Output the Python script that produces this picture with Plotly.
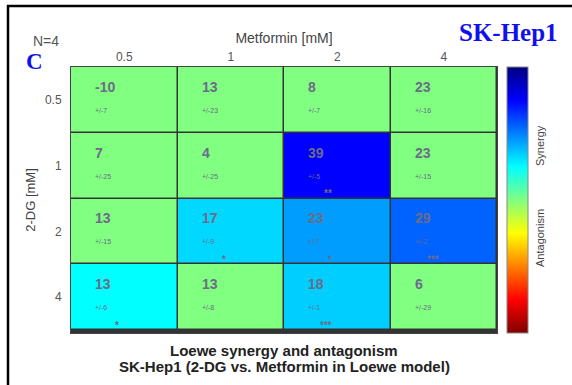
import plotly.graph_objects as go

# Doses
metformin_mM = ["0.5", "1", "2", "4"]
dg_mM = ["0.5", "1", "2", "4"]

# Loewe synergy scores (rows: 2-DG dose, columns: Metformin dose)
synergy = [
    [-10, 13, 8, 23],
    [7, 4, 39, 23],
    [13, 17, 23, 29],
    [13, 13, 18, 6],
]
synergy_sd = [
    [7, 23, 7, 16],
    [25, 25, 5, 15],
    [15, 9, 7, 2],
    [6, 8, 1, 29],
]
significance = [
    ["", "", "", ""],
    ["", "", "**", ""],
    ["", "*", "*", "***"],
    ["*", "", "***", ""],
]

# Only significant cells are coloured by their score; the rest sit at zero
color_values = [
    [v if s else 0 for v, s in zip(vrow, srow)]
    for vrow, srow in zip(synergy, significance)
]

jet_reversed = [
    [0.0, "rgb(128,0,0)"],
    [0.125, "rgb(255,0,0)"],
    [0.375, "rgb(255,255,0)"],
    [0.5, "rgb(128,255,128)"],
    [0.625, "rgb(0,255,255)"],
    [0.875, "rgb(0,0,255)"],
    [1.0, "rgb(0,0,128)"],
]

W, H = 572, 385
L, R, T, B = 71, 75, 67, 52
pw, ph = W - L - R, H - T - B


def px(x):
    return (x - L) / pw


def py(y):
    return (H - B - y) / ph


fig = go.Figure(
    go.Heatmap(
        z=color_values,
        x=metformin_mM,
        y=dg_mM,
        zmin=-52,
        zmax=52,
        colorscale=jet_reversed,
        xgap=1.5,
        ygap=1.5,
        hoverinfo="skip",
        colorbar=dict(
            x=px(507),
            xanchor="left",
            xpad=0,
            ypad=0,
            y=0.5,
            yanchor="middle",
            len=1.0,
            lenmode="fraction",
            thickness=21,
            thicknessmode="pixels",
            outlinewidth=1,
            outlinecolor="#888888",
            showticklabels=False,
            ticks="",
        ),
    )
)

text_color = "#6c6c88"
annotations = []
for i in range(len(dg_mM)):
    for j in range(len(metformin_mM)):
        annotations.append(dict(
            x=j - 0.293, y=i - 0.2, xref="x", yref="y",
            text="<b>%d</b>" % synergy[i][j], showarrow=False,
            xanchor="left", yanchor="middle",
            font=dict(family="Liberation Sans", size=14, color=text_color),
        ))
        annotations.append(dict(
            x=j - 0.293, y=i + 0.16, xref="x", yref="y",
            text="+/-%d" % synergy_sd[i][j], showarrow=False,
            xanchor="left", yanchor="middle",
            font=dict(family="Liberation Sans", size=7, color=text_color),
        ))
        if significance[i][j]:
            annotations.append(dict(
                x=j - 0.03, y=i + 0.43, xref="x", yref="y",
                text="<b>%s</b>" % significance[i][j], showarrow=False,
                xanchor="right", yanchor="middle",
                font=dict(family="Liberation Sans", size=10, color=text_color),
            ))

# Colour bar labels
annotations += [
    dict(x=px(540), y=py(146), xref="paper", yref="paper", text="Synergy",
         textangle=-90, showarrow=False, xanchor="center", yanchor="middle",
         font=dict(family="Liberation Sans", size=11, color="#444444")),
    dict(x=px(540), y=py(238), xref="paper", yref="paper", text="Antagonism",
         textangle=-90, showarrow=False, xanchor="center", yanchor="middle",
         font=dict(family="Liberation Sans", size=11, color="#444444")),
]

# Panel labels
annotations += [
    dict(x=px(46), y=py(41), xref="paper", yref="paper", text="N=4",
         showarrow=False, xanchor="center", yanchor="middle",
         font=dict(family="Liberation Sans", size=14, color="#555555")),
    dict(x=px(34), y=py(61), xref="paper", yref="paper", text="<b>C</b>",
         showarrow=False, xanchor="center", yanchor="middle",
         font=dict(family="Liberation Serif", size=23, color="#1010ee")),
    dict(x=px(508), y=py(32), xref="paper", yref="paper", text="<b>SK-Hep1</b>",
         showarrow=False, xanchor="center", yanchor="middle",
         font=dict(family="Liberation Serif", size=25, color="#1010ee")),
]

# Bottom title
annotations += [
    dict(x=0.5, y=py(350), xref="paper", yref="paper",
         text="<b>Loewe synergy and antagonism</b>",
         showarrow=False, xanchor="center", yanchor="middle",
         font=dict(family="Liberation Sans", size=15, color="#222222")),
    dict(x=0.5, y=py(366), xref="paper", yref="paper",
         text="<b>SK-Hep1 (2-DG vs. Metformin in Loewe model)</b>",
         showarrow=False, xanchor="center", yanchor="middle",
         font=dict(family="Liberation Sans", size=15, color="#222222")),
]

# Frame lines on the top and left of the figure
shapes = [
    dict(type="line", xref="paper", yref="paper",
         x0=px(7), x1=px(575), y0=py(6), y1=py(6),
         line=dict(color="black", width=2.5)),
    dict(type="line", xref="paper", yref="paper",
         x0=px(8), x1=px(8), y0=py(5), y1=py(390),
         line=dict(color="black", width=2.5)),
]

fig.update_layout(
    width=W,
    height=H,
    margin=dict(l=L, r=R, t=T, b=B, pad=0),
    paper_bgcolor="white",
    plot_bgcolor="#333333",
    annotations=annotations,
    shapes=shapes,
    xaxis=dict(
        type="category",
        side="top",
        title=dict(text="Metformin [mM]", standoff=3,
                   font=dict(family="Liberation Sans", size=14, color="#444444")),
        tickfont=dict(family="Liberation Sans", size=12, color="#555555"),
        ticks="",
        showline=True, mirror=True, linecolor="#444444", linewidth=1,
        showgrid=False, zeroline=False,
    ),
    yaxis=dict(
        type="category",
        autorange="reversed",
        title=dict(text="2-DG [mM]", standoff=6,
                   font=dict(family="Liberation Sans", size=13, color="#444444")),
        tickfont=dict(family="Liberation Sans", size=12, color="#555555"),
        ticks="",
        ticklabelstandoff=6,
        showline=True, mirror=True, linecolor="#444444", linewidth=1,
        showgrid=False, zeroline=False,
    ),
)

fig.write_html("out.html")
